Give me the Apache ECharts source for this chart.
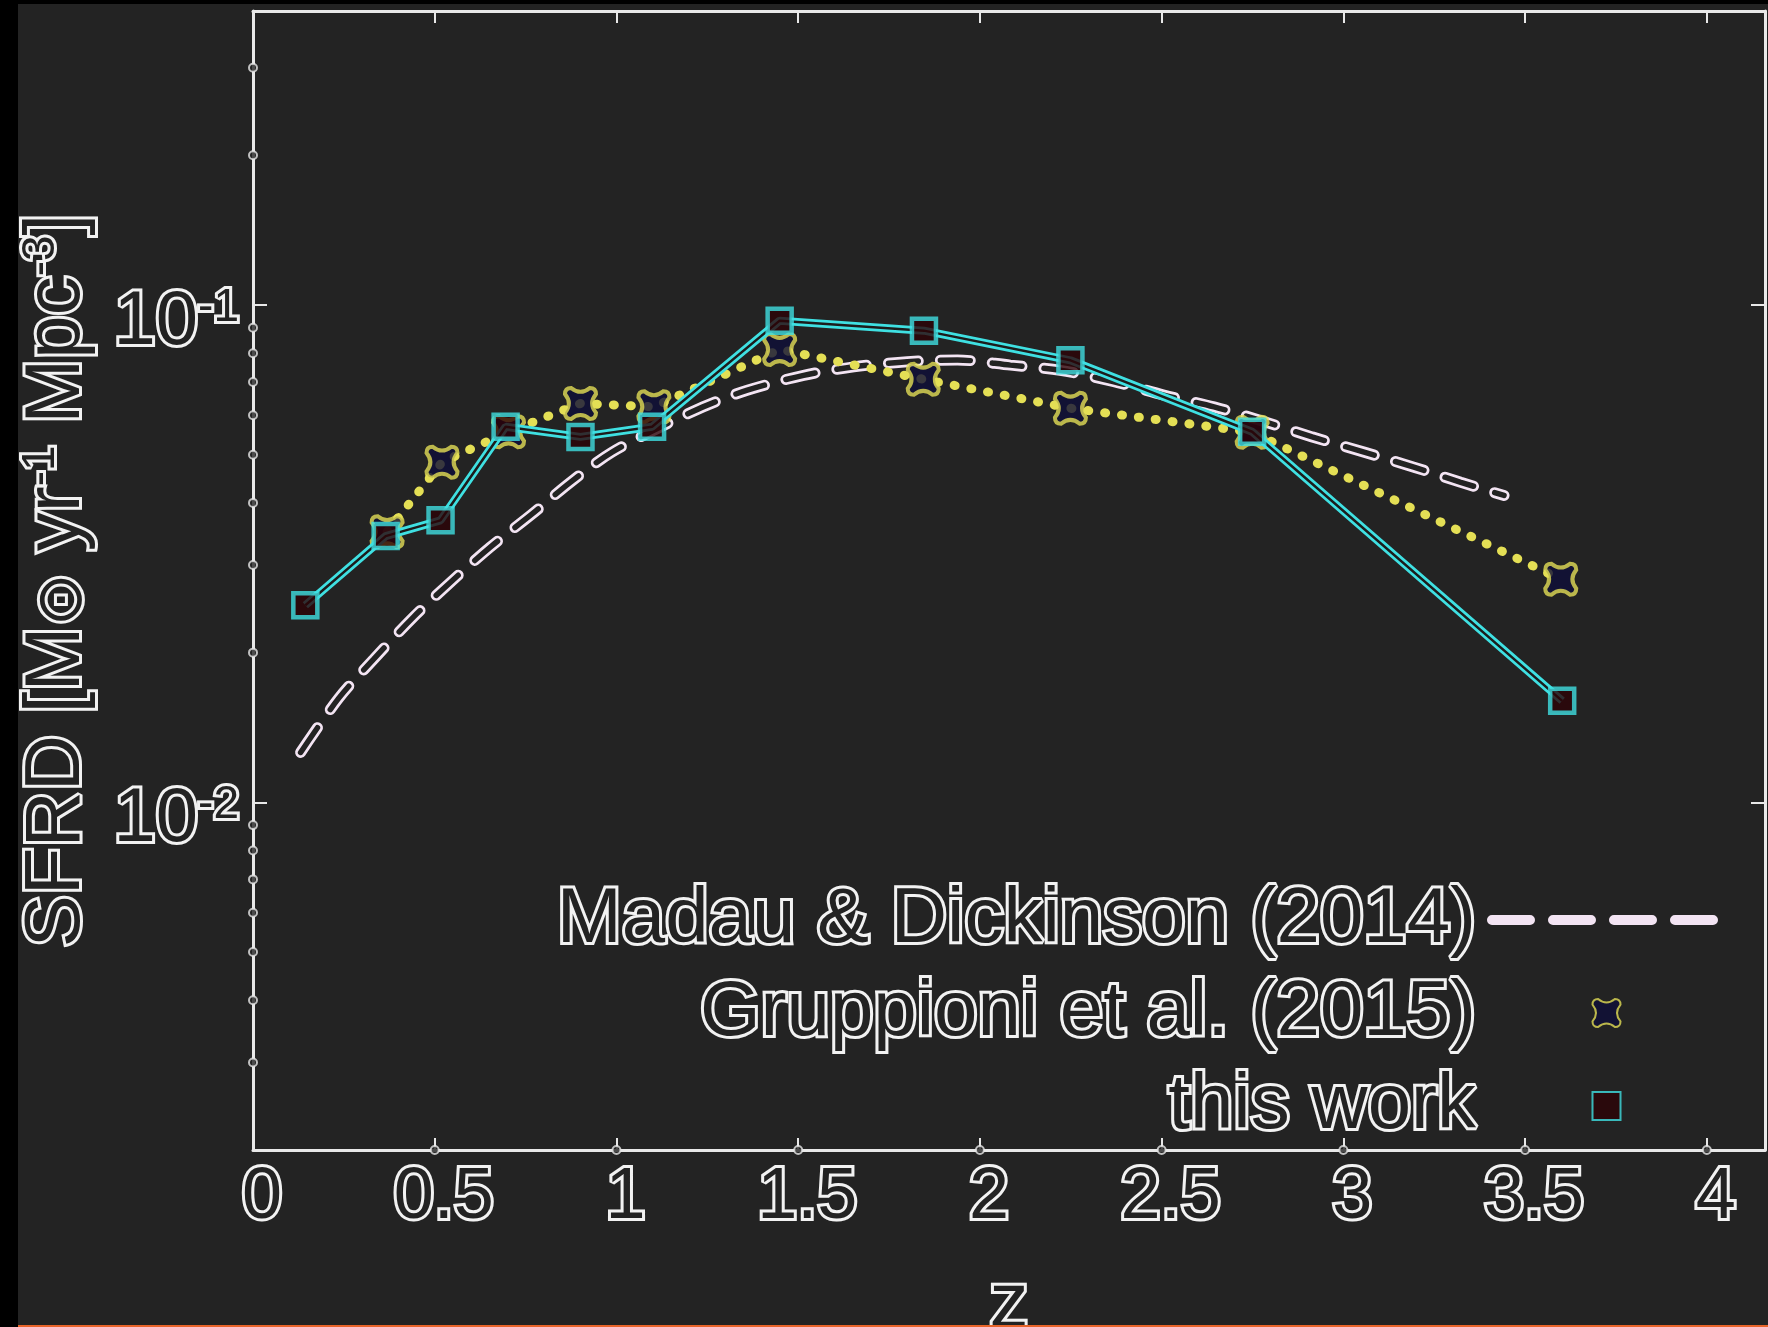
<!DOCTYPE html>
<html><head><meta charset="utf-8">
<script src="https://cdn.jsdelivr.net/npm/echarts@6/dist/echarts.min.js"></script>
<style>
html,body{margin:0;padding:0;background:#000;width:1768px;height:1327px;overflow:hidden;}
#chart{position:absolute;left:18px;top:4px;width:1750px;height:1321px;}
#bar{position:absolute;left:18px;top:1325px;width:1750px;height:2px;background:#e8642a;}
</style></head><body>
<div id="chart"></div><div id="bar"></div>
<script>
// ---- data ----
const madauZ    = [0.131, 0.236, 0.332, 0.442, 0.548, 0.653, 0.768, 0.873, 0.988, 1.139, 1.250, 1.360, 1.515, 1.653, 1.800, 1.938, 2.084, 2.221, 2.369, 2.506, 2.644, 2.772, 2.914, 3.057, 3.194, 3.323, 3.442];
const madauSFRD = [0.0126, 0.0162, 0.0194, 0.0236, 0.0279, 0.0326, 0.0380, 0.0440, 0.0506, 0.0577, 0.0629, 0.0674, 0.0722, 0.0751, 0.0769, 0.0775, 0.0757, 0.0739, 0.0701, 0.0659, 0.0624, 0.0586, 0.0543, 0.0506, 0.0472, 0.0440, 0.0414];

const gruppioniZ    = [0.369, 0.520, 0.703, 0.901, 1.103, 1.449, 1.844, 2.249, 2.749, 3.598];
const gruppioniSFRD = [0.0350, 0.0483, 0.0556, 0.0634, 0.0624, 0.0814, 0.0709, 0.0620, 0.0555, 0.0281];

const thisWorkZ    = [0.144, 0.365, 0.516, 0.695, 0.901, 1.098, 1.449, 1.846, 2.249, 2.749, 3.602];
const thisWorkSFRD = [0.0249, 0.0343, 0.0369, 0.0569, 0.0543, 0.0569, 0.0930, 0.0888, 0.0774, 0.0556, 0.0160];

const legendNames = ['Madau & Dickinson (2014)', 'Gruppioni et al. (2015)', 'this work'];
const xTickValues = [0.5, 1, 1.5, 2, 2.5, 3, 3.5, 4];
const yMinorTicks = [0.003, 0.004, 0.005, 0.006, 0.007, 0.008, 0.009,
                     0.02, 0.03, 0.04, 0.05, 0.06, 0.07, 0.08, 0.09, 0.2, 0.3];
const xMin = 0, xMax = 4.16, xStep = 0.5;
const yMin = 0.002, yMax = 0.39;

// ---- helpers ----
const zip = (a, b) => a.map((v, i) => [v, b[i]]);
const FONT = "'Liberation Sans', Arial, sans-serif";
const BG = '#232323';
const WHITE = '#f2f2f2';
const outline = {color: BG, textBorderColor: WHITE, textBorderWidth: 6, fontFamily: FONT};
const CYAN = '#3fe0e2', YELLOW = '#e4df55', PINK = '#f3e4f3';
const STAR = 'path://M-10,-6 Q-10,-10 -6,-10 Q0,-5 6,-10 Q10,-10 10,-6 Q5,0 10,6 Q10,10 6,10 Q0,5 -6,10 Q-10,10 -10,6 Q-5,0 -10,-6 Z';
const SQUARE = 'path://M-10,-10 L10,-10 L10,10 L-10,10 Z';

function fmtX(v) {
  if (Math.abs(v / xStep - Math.round(v / xStep)) > 1e-6) return '';
  return String(+v.toFixed(2));
}
function fmtY(v) {
  const e = Math.log10(v), r = Math.round(e);
  if (Math.abs(e - r) > 1e-6) return '';
  return '{b|10}{s|' + r + '}';
}

const axisLineStyle = {color: '#e8e8e8', width: 3};
const tickStyle = {color: '#e8e8e8', width: 2};

const chart = echarts.init(document.getElementById('chart'), null, {renderer: 'canvas'});
chart.setOption({
  backgroundColor: BG,
  animation: false,
  grid: {left: 235, right: 3, top: 7, bottom: 175, containLabel: false, outerBoundsMode: 'none'},
  xAxis: [{
    type: 'value', min: xMin, max: xMax, interval: xStep, position: 'bottom',
    name: 'z', nameLocation: 'middle', nameGap: 116,
    nameTextStyle: Object.assign({}, outline, {fontSize: 78}),
    axisLine: {show: true, onZero: false, lineStyle: axisLineStyle},
    axisTick: {show: true, inside: true, length: 12, lineStyle: tickStyle},
    axisLabel: Object.assign({}, outline, {fontSize: 72, margin: 12, padding: [0, 0, 0, 18], formatter: fmtX}),
    splitLine: {show: false}
  }, {
    type: 'value', min: xMin, max: xMax, interval: xStep, position: 'top',
    axisLine: {show: true, onZero: false, lineStyle: axisLineStyle},
    axisTick: {show: true, inside: true, length: 12, lineStyle: tickStyle},
    axisLabel: {show: false}, splitLine: {show: false}
  }],
  yAxis: [{
    type: 'log', logBase: 10, min: yMin, max: yMax, position: 'left',
    name: '{a|SFRD [M}{o|⊙}{a| yr}{p|-1}{a| Mpc}{p|-3}{a|]}',
    nameLocation: 'middle', nameGap: 131,
    nameTextStyle: {
      rich: {
        a: Object.assign({}, outline, {fontSize: 78}),
        o: Object.assign({}, outline, {fontSize: 64, verticalAlign: 'bottom', fontFamily: "'DejaVu Sans', sans-serif"}),
        p: Object.assign({}, outline, {fontSize: 46, verticalAlign: 'top'})
      }
    },
    axisLine: {show: true, onZero: false, lineStyle: axisLineStyle},
    axisTick: {show: true, inside: true, length: 14, lineStyle: tickStyle},
    axisLabel: {
      margin: 14, padding: [36, 0, 0, 0], formatter: fmtY,
      rich: {
        b: Object.assign({}, outline, {fontSize: 76}),
        s: Object.assign({}, outline, {fontSize: 46, verticalAlign: 'top'})
      }
    },
    splitLine: {show: false}, minorTick: {show: false}
  }, {
    type: 'log', logBase: 10, min: yMin, max: yMax, position: 'right',
    axisLine: {show: true, onZero: false, lineStyle: axisLineStyle},
    axisTick: {show: true, inside: true, length: 14, lineStyle: tickStyle},
    axisLabel: {show: false}, splitLine: {show: false}
  }],
  legend: {
    orient: 'vertical', right: 37, top: 869, align: 'right',
    itemWidth: 229, itemHeight: 28, itemGap: 9, selectedMode: false,
    textStyle: Object.assign({}, outline, {fontSize: 78, padding: [0, 11, 0, 0]}),
    data: [
      {name: legendNames[0], itemStyle: {opacity: 0},
       lineStyle: {color: PINK, width: 10, type: [38, 23], cap: 'round', opacity: 1}},
      {name: legendNames[1]},
      {name: legendNames[2], icon: SQUARE}
    ]
  },
  series: [
    {name: legendNames[0], type: 'line', z: 2, data: zip(madauZ, madauSFRD), symbol: 'none', smooth: 0.3,
     lineStyle: {color: PINK, width: 11, type: [30, 22], cap: 'round'}, itemStyle: {color: PINK}, silent: true},
    {name: 'md-core', type: 'line', z: 3, data: zip(madauZ, madauSFRD), symbol: 'none', smooth: 0.3,
     lineStyle: {color: BG, width: 5.5, type: [30, 22], cap: 'round'}, silent: true},
    {name: 'gr-line', type: 'line', z: 4, data: zip(gruppioniZ, gruppioniSFRD), symbol: 'none',
     lineStyle: {color: YELLOW, width: 9, type: [1, 16], cap: 'round'}, silent: true},
    {name: legendNames[1], type: 'scatter', z: 5, data: zip(gruppioniZ, gruppioniSFRD), symbol: STAR, symbolSize: 31,
     itemStyle: {color: '#0e0e38', borderColor: YELLOW, borderWidth: 4}, silent: true},
    {name: 'tw-line', type: 'line', z: 6, data: zip(thisWorkZ, thisWorkSFRD), symbol: 'none',
     lineStyle: {color: CYAN, width: 8}, silent: true},
    {name: 'tw-core', type: 'line', z: 7, data: zip(thisWorkZ, thisWorkSFRD), symbol: 'none',
     lineStyle: {color: '#1c1c1c', width: 2.5}, silent: true},
    {name: legendNames[2], type: 'scatter', z: 8, data: zip(thisWorkZ, thisWorkSFRD), symbol: SQUARE, symbolSize: 24,
     itemStyle: {color: '#2c0306', borderColor: CYAN, borderWidth: 4.5}, silent: true},
    {name: 'y-minor', type: 'scatter', z: 9, data: yMinorTicks.map(v => [xMin, v]), symbol: 'circle', symbolSize: 8,
     itemStyle: {color: BG, borderColor: '#e8e8e8', borderWidth: 2}, clip: false, silent: true},
    {name: 'x-dots', type: 'scatter', z: 9, data: xTickValues.map(v => [v, yMin]), symbol: 'circle', symbolSize: 8,
     itemStyle: {color: BG, borderColor: '#e8e8e8', borderWidth: 2}, clip: false, silent: true}
  ]
});
</script>
</body></html>
